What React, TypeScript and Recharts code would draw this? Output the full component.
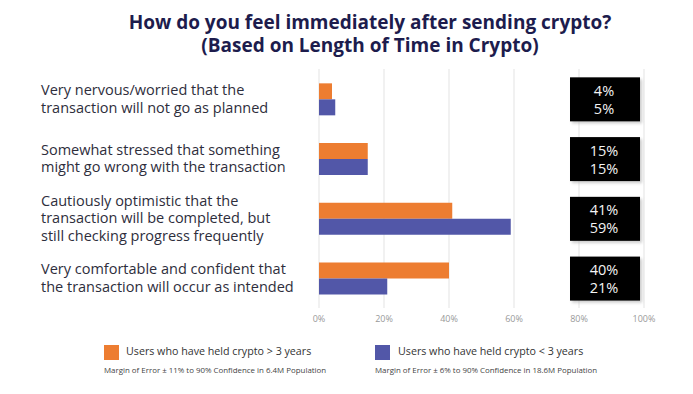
import { Bar, BarChart, CartesianGrid, LabelList, XAxis, YAxis } from "recharts"

const categories = [
  "Very nervous/worried that the\ntransaction will not go as planned",
  "Somewhat stressed that something\nmight go wrong with the transaction",
  "Cautiously optimistic that the\ntransaction will be completed, but\nstill checking progress frequently",
  "Very comfortable and confident that\nthe transaction will occur as intended",
]
const over3Years = [4, 15, 41, 40]
const under3Years = [5, 15, 59, 21]
const xTicks = [0, 20, 40, 60, 80, 100]

const titleLines = ["How do you feel immediately after sending crypto?", "(Based on Length of Time in Crypto)"]
const seriesNames = ["Users who have held crypto > 3 years", "Users who have held crypto < 3 years"]
const marginNotes = [
  "Margin of Error ± 11% to 90% Confidence in 6.4M Population",
  "Margin of Error ± 6% to 90% Confidence in 18.6M Population",
]

const ORANGE = "#ED7D31"
const BLUE = "#5257A8"
const FONT = "'Open Sans', sans-serif"

const data = categories.map((c, i) => ({ category: c, over: over3Years[i], under: under3Years[i] }))

function CategoryTick({ y, payload }: any) {
  const lines = String(payload.value).split("\n")
  const lh = 17.5
  const start = y - ((lines.length - 1) * lh) / 2 - 1
  return (
    <text x={41} y={start} fontSize={14.5} fill="#2e2e3c" fontFamily={FONT} textAnchor="start" dominantBaseline="central">
      {lines.map((l, i) => (
        <tspan key={i} x={41} y={start + i * lh}>
          {l}
        </tspan>
      ))}
    </text>
  )
}

// black value boxes on the right, one per category
function ValueBox(props: any) {
  const { y, height, index } = props
  const center = y + height
  const top = center - 22
  const bx = 570
  return (
    <g>
      <rect x={bx + 2} y={top + 2} width={70} height={44} fill="#999" opacity={0.5} filter="url(#blur)" />
      <rect x={bx} y={top} width={70} height={44} fill="#000" />
      <text x={bx + 34} y={top + 13} fill="#f4f4f4" fontSize={14.5} fontFamily={FONT} textAnchor="middle" dominantBaseline="central">
        {over3Years[index]}%
      </text>
      <text x={bx + 34} y={top + 31} fill="#f4f4f4" fontSize={14.5} fontFamily={FONT} textAnchor="middle" dominantBaseline="central">
        {under3Years[index]}%
      </text>
    </g>
  )
}

export default function App() {
  return (
    <div style={{ position: "absolute", left: 0, top: 0, width: 693, height: 394, background: "#fff", fontFamily: FONT }}>
      {titleLines.map((t, i) => (
        <div
          key={i}
          style={{
            position: "absolute",
            left: 0,
            top: 11 + i * 23,
            width: 740,
            textAlign: "center",
            fontSize: 19,
            fontWeight: 700,
            lineHeight: "22px",
            color: "#1d1c4d",
          }}
        >
          {t}
        </div>
      ))}
      <BarChart
        width={693}
        height={394}
        data={data}
        layout="vertical"
        margin={{ top: 69, right: 49, bottom: 56, left: 0 }}
        barGap={0}
        barCategoryGap="24%"
      >
        <svg>
          <defs>
            <filter id="blur">
              <feGaussianBlur stdDeviation="1.5" />
            </filter>
          </defs>
        </svg>
        <CartesianGrid horizontal={false} stroke="#e3e3e3" />
        <XAxis
          type="number"
          domain={[0, 100]}
          ticks={xTicks}
          tickFormatter={(v) => `${v}%`}
          axisLine={false}
          tickLine={false}
          tick={{ fontSize: 9, fill: "#999", fontFamily: FONT }}
        />
        <YAxis type="category" dataKey="category" width={319} axisLine={false} tickLine={false} tick={<CategoryTick />} />
        <Bar dataKey="over" fill={ORANGE} isAnimationActive={false}>
          <LabelList dataKey="over" content={<ValueBox />} />
        </Bar>
        <Bar dataKey="under" fill={BLUE} isAnimationActive={false} />
      </BarChart>
      {[ORANGE, BLUE].map((color, i) => {
        const left = i === 0 ? 104 : 375
        return (
          <div key={i} style={{ position: "absolute", left, top: 344 }}>
            <div style={{ position: "absolute", left: 0, top: 1, width: 15, height: 15, background: color }} />
            <div style={{ position: "absolute", left: i === 0 ? 22 : 23, top: 0, whiteSpace: "nowrap", fontSize: 10.7, color: "#333" }}>
              {seriesNames[i]}
            </div>
            <div style={{ position: "absolute", left: 0, top: 21, whiteSpace: "nowrap", fontSize: 7.9, color: "#444" }}>
              {marginNotes[i]}
            </div>
          </div>
        )
      })}
    </div>
  )
}
